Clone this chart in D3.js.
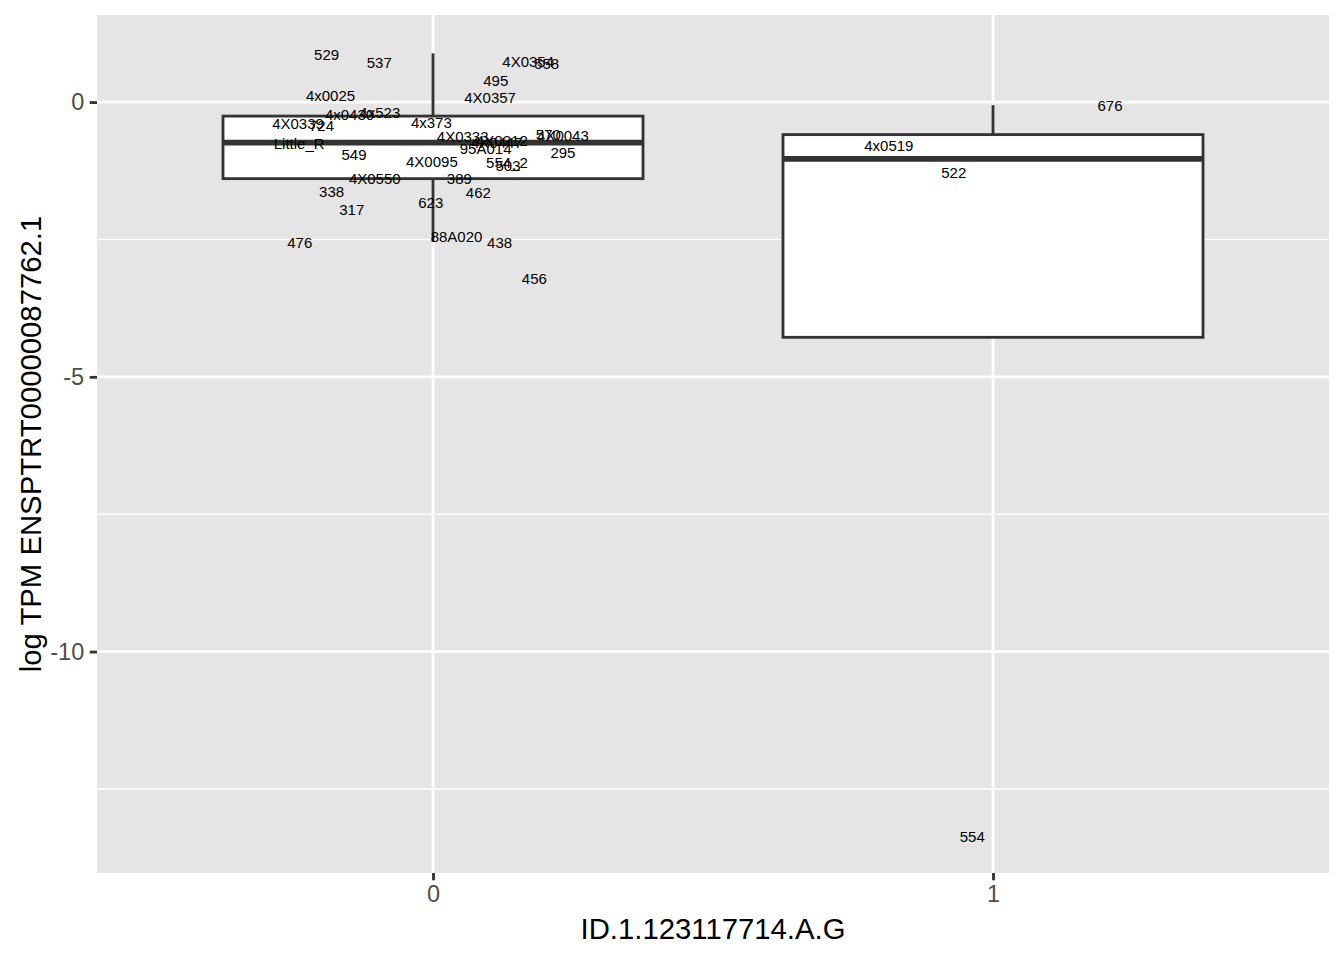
<!DOCTYPE html>
<html>
<head>
<meta charset="utf-8">
<script src="https://cdn.jsdelivr.net/npm/d3@7"></script>
<style>
  html, body { margin: 0; padding: 0; background: #ffffff; }
  svg { display: block; }
  text { font-family: "Liberation Sans", Arial, Helvetica, sans-serif; }
</style>
</head>
<body>
<script>
// ---------- data ----------
const categories = ["0", "1"];
const yTicks = [0, -5, -10];
const yMinorTicks = [-2.5, -7.5, -12.5];

// sample labels, their group, horizontal jitter (in category units) and value
const labels0 = ["529","537","4X0354","558","495","4x0025","4X0357","4x0430","4x523","4X0339","724","4x373",
  "4X0333","4X0212","4X0447","570","4X0043","Little_R","95A014","295","549","4X0095","554_2","503",
  "4X0550","389","338","462","623","317","88A020","476","438","456"];
const jitter0 = [-0.190,-0.096,0.170,0.203,0.112,-0.183,0.102,-0.149,-0.095,-0.241,-0.199,-0.003,
  0.053,0.123,0.114,0.206,0.232,-0.239,0.094,0.232,-0.141,-0.002,0.132,0.134,
  -0.104,0.047,-0.181,0.081,-0.004,-0.145,0.042,-0.238,0.119,0.181];
const values0 = [0.860,0.716,0.736,0.694,0.394,0.115,0.084,-0.235,-0.195,-0.390,-0.435,-0.371,
  -0.630,-0.699,-0.745,-0.599,-0.617,-0.750,-0.854,-0.923,-0.963,-1.085,-1.105,-1.160,
  -1.401,-1.395,-1.632,-1.646,-1.829,-1.960,-2.439,-2.557,-2.566,-3.204];

const labels1 = ["676","4x0519","522","554"];
const jitter1 = [0.209,-0.186,-0.070,-0.037];
const values1 = [-0.067,-0.796,-1.288,-13.359];

// boxplot statistics per category
const boxLowerWhisker = [-2.545, -4.281];
const boxQ1 = [-1.393, -4.281];
const boxMedian = [-0.738, -1.033];
const boxQ3 = [-0.255, -0.592];
const boxUpperWhisker = [0.887, -0.055];

const xTitle = "ID.1.123117714.A.G";
const yTitle = "log TPM ENSPTRT00000087762.1";

// ---------- layout ----------
const W = 1344, H = 960;
const panel = { left: 97, right: 1329, top: 15, bottom: 873 };

const svg = d3.select("body").append("svg").attr("width", W).attr("height", H);

const x = d3.scaleLinear().domain([-0.6, 1.6]).range([panel.left, panel.right]);
const y = d3.scaleLinear().domain([-14.03, 1.585]).range([panel.bottom, panel.top]);
const boxWidth = 0.75;

// panel background
svg.append("rect")
  .attr("x", panel.left).attr("y", panel.top)
  .attr("width", panel.right - panel.left).attr("height", panel.bottom - panel.top)
  .attr("fill", "#E5E5E5");

// grid
svg.append("g").selectAll("line").data(yMinorTicks).join("line")
  .attr("x1", panel.left).attr("x2", panel.right)
  .attr("y1", d => y(d)).attr("y2", d => y(d))
  .attr("stroke", "#ffffff").attr("stroke-width", 1.42);
svg.append("g").selectAll("line").data(yTicks).join("line")
  .attr("x1", panel.left).attr("x2", panel.right)
  .attr("y1", d => y(d)).attr("y2", d => y(d))
  .attr("stroke", "#ffffff").attr("stroke-width", 2.84);
svg.append("g").selectAll("line").data(categories).join("line")
  .attr("x1", (d, i) => x(i)).attr("x2", (d, i) => x(i))
  .attr("y1", panel.top).attr("y2", panel.bottom)
  .attr("stroke", "#ffffff").attr("stroke-width", 2.84);

// boxplots
const boxes = categories.map((c, i) => ({
  i, lw: boxLowerWhisker[i], q1: boxQ1[i], med: boxMedian[i], q3: boxQ3[i], uw: boxUpperWhisker[i]
}));
const gBox = svg.append("g");
boxes.forEach(b => {
  const cx = x(b.i);
  gBox.append("line").attr("x1", cx).attr("x2", cx).attr("y1", y(b.uw)).attr("y2", y(b.q3))
    .attr("stroke", "#333333").attr("stroke-width", 2.84);
  gBox.append("line").attr("x1", cx).attr("x2", cx).attr("y1", y(b.q1)).attr("y2", y(b.lw))
    .attr("stroke", "#333333").attr("stroke-width", 2.84);
  gBox.append("rect")
    .attr("x", x(b.i - boxWidth / 2)).attr("width", x(b.i + boxWidth / 2) - x(b.i - boxWidth / 2))
    .attr("y", y(b.q3)).attr("height", y(b.q1) - y(b.q3))
    .attr("fill", "#ffffff").attr("stroke", "#333333").attr("stroke-width", 2.84);
  gBox.append("line")
    .attr("x1", x(b.i - boxWidth / 2)).attr("x2", x(b.i + boxWidth / 2))
    .attr("y1", y(b.med)).attr("y2", y(b.med))
    .attr("stroke", "#333333").attr("stroke-width", 5.7);
});

// text labels
const points = [];
labels0.forEach((l, k) => points.push({ label: l, g: 0, j: jitter0[k], v: values0[k] }));
labels1.forEach((l, k) => points.push({ label: l, g: 1, j: jitter1[k], v: values1[k] }));
svg.append("g").selectAll("text").data(points).join("text")
  .attr("x", d => x(d.g + d.j))
  .attr("y", d => y(d.v))
  .attr("dy", "0.36em")
  .attr("text-anchor", "middle")
  .attr("font-size", 15)
  .attr("fill", "#000000")
  .text(d => d.label);

// y axis
const yAxis = d3.axisLeft(y).tickValues(yTicks).tickSize(7.3).tickPadding(5.5)
  .tickFormat(d => d3.format("d")(d).replace("−", "-"));
const gy = svg.append("g").attr("transform", `translate(${panel.left},0)`).call(yAxis);
gy.select(".domain").remove();
gy.selectAll(".tick line").attr("stroke", "#333333").attr("stroke-width", 2.84);
gy.selectAll(".tick text").attr("fill", "#4D4D4D").attr("font-size", 23.5)
  .attr("font-family", "Liberation Sans, Arial, sans-serif");

// x axis
const xAxis = d3.axisBottom(x).tickValues(categories.map((c, i) => i)).tickSize(7.3).tickPadding(5.5)
  .tickFormat((d, i) => categories[i]);
const gx = svg.append("g").attr("transform", `translate(0,${panel.bottom})`).call(xAxis);
gx.select(".domain").remove();
gx.selectAll(".tick line").attr("stroke", "#333333").attr("stroke-width", 2.84);
gx.selectAll(".tick text").attr("fill", "#4D4D4D").attr("font-size", 23.5)
  .attr("font-family", "Liberation Sans, Arial, sans-serif");

// titles
svg.append("text")
  .attr("x", (panel.left + panel.right) / 2).attr("y", 939)
  .attr("text-anchor", "middle").attr("font-size", 29.3).attr("fill", "#000000")
  .text(xTitle);
svg.append("text")
  .attr("transform", `translate(41,${(panel.top + panel.bottom) / 2}) rotate(-90)`)
  .attr("text-anchor", "middle").attr("font-size", 29.3).attr("fill", "#000000")
  .text(yTitle);
</script>
</body>
</html>
